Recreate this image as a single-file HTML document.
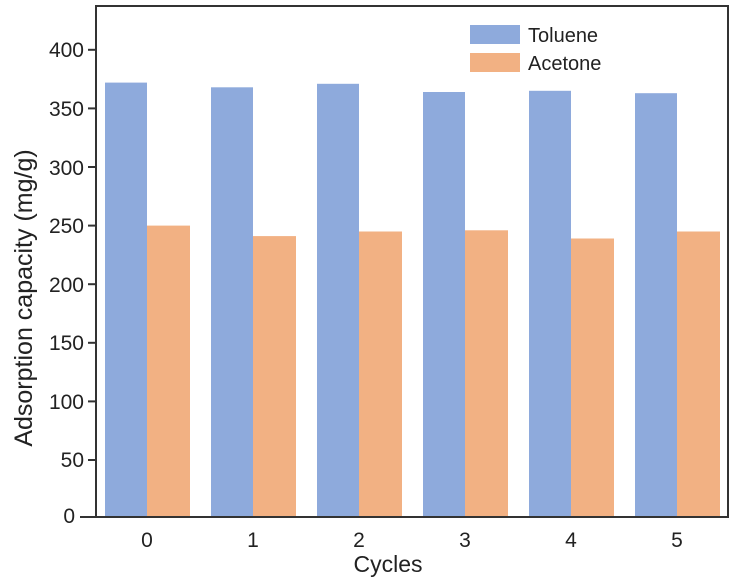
<!DOCTYPE html>
<html><head><meta charset="utf-8"><style>body{margin:0;background:#fff}svg{display:block}</style></head>
<body>
<svg width="737" height="586" viewBox="0 0 737 586" xmlns="http://www.w3.org/2000/svg" font-family="Liberation Sans, sans-serif">
<g fill="#8eaadc">
<rect x="105" y="82.6" width="42" height="434.4"/>
<rect x="211" y="87.3" width="42" height="429.7"/>
<rect x="317" y="83.8" width="42" height="433.2"/>
<rect x="423" y="92.0" width="42" height="425.0"/>
<rect x="529" y="90.8" width="42" height="426.2"/>
<rect x="635" y="93.2" width="42" height="423.8"/>
</g>
<g fill="#f2b183">
<rect x="147" y="225.6" width="43" height="291.4"/>
<rect x="253" y="236.1" width="43" height="280.9"/>
<rect x="359" y="231.5" width="43" height="285.5"/>
<rect x="465" y="230.3" width="43" height="286.7"/>
<rect x="571" y="238.5" width="43" height="278.5"/>
<rect x="677" y="231.5" width="43" height="285.5"/>
</g>
<g font-size="21" text-anchor="middle" fill="#222">
<text x="147" y="547">0</text><text x="253" y="547">1</text><text x="359" y="547">2</text>
<text x="465" y="547">3</text><text x="571" y="547">4</text><text x="677" y="547">5</text>
</g>
<g stroke="#333" stroke-width="2">
<line x1="88" x2="96" y1="460" y2="460"/><line x1="88" x2="96" y1="401.4" y2="401.4"/>
<line x1="88" x2="96" y1="342.8" y2="342.8"/><line x1="88" x2="96" y1="284.2" y2="284.2"/>
<line x1="88" x2="96" y1="225.6" y2="225.6"/><line x1="88" x2="96" y1="167" y2="167"/>
<line x1="88" x2="96" y1="108.4" y2="108.4"/><line x1="88" x2="96" y1="49.8" y2="49.8"/>
</g>
<g font-size="21" text-anchor="end" fill="#222">
<text x="75" y="523">0</text><text x="84" y="467">50</text><text x="84" y="409">100</text>
<text x="84" y="350">150</text><text x="84" y="292">200</text><text x="84" y="233">250</text>
<text x="84" y="175">300</text><text x="84" y="116">350</text><text x="84" y="57">400</text>
</g>
<rect x="96" y="6" width="632" height="511" fill="none" stroke="#333" stroke-width="2"/>
<line x1="80" x2="96" y1="517" y2="517" stroke="#333" stroke-width="2"/>
<rect x="470" y="25" width="50" height="19" fill="#8eaadc"/>
<rect x="470" y="53" width="50" height="19" fill="#f2b183"/>
<text x="528" y="42" font-size="20" fill="#222">Toluene</text>
<text x="528" y="70" font-size="20" fill="#222">Acetone</text>
<text x="388" y="572" font-size="23" text-anchor="middle" fill="#222">Cycles</text>
<text transform="translate(32,298) rotate(-90)" font-size="25" text-anchor="middle" fill="#222">Adsorption capacity (mg/g)</text>
</svg>
</body></html>
